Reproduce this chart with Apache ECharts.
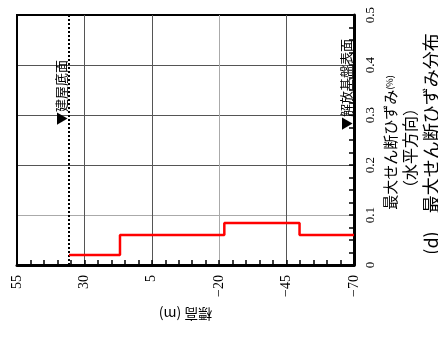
<!DOCTYPE html>
<html><head><meta charset="utf-8">
<script src="https://cdn.jsdelivr.net/npm/echarts@6/dist/echarts.min.js"></script>
<style>html,body{margin:0;padding:0;background:#fff}#c{width:438px;height:338px}</style>
</head><body><div id="c"></div>
<script>
// ---- data ----
const elevationTicks = [55, 30, 5, -20, -45, -70];
const strainTicks = [0, 0.1, 0.2, 0.3, 0.4, 0.5];
const layerBoundaries = [35.7, 16.8, -21.9, -49.8, -70];
const layerStrain = [0.02, 0.06, 0.084, 0.06];
const foundationLevel = 35.7;
const bedrockLevel = -70;
const markerLabels = ['▼建屋底面', '▼解放基盤表面'];
const markerStrainPos = [0.28, 0.27];
const elevationTitle = '標高 (m)';
const strainTitle = ['最大せん断ひずみ', '(%)'];
const directionTitle = '（水平方向）';
const panelTitle = '(d)　最大せん断ひずみ分布';

const SERIF = "'Liberation Serif','Noto Sans CJK JP',serif";
const CJK = "'Noto Sans CJK JP','Liberation Serif',sans-serif";

const stepPoints = [];
layerStrain.forEach((v, i) => {
  stepPoints.push([layerBoundaries[i], v]);
  stepPoints.push([layerBoundaries[i + 1], v]);
});

const chart = echarts.init(document.getElementById('c'), null, {renderer: 'canvas'});
const eMin = Math.min(...elevationTicks), eMax = Math.max(...elevationTicks);
const sMin = Math.min(...strainTicks), sMax = Math.max(...strainTicks);

chart.setOption({
  animation: false,
  backgroundColor: '#fff',
  grid: {left: 17, right: 84, top: 15, bottom: 73, show: true, borderColor: '#000', borderWidth: 2, backgroundColor: 'transparent'},
  xAxis: {
    type: 'value', min: eMin, max: eMax, interval: elevationTicks[0] - elevationTicks[1],
    inverse: true, position: 'bottom',
    name: elevationTitle, nameLocation: 'middle', nameRotate: 180, nameGap: 42,
    nameTextStyle: {fontFamily: CJK, fontSize: 14, color: '#000'},
    axisLine: {show: true, onZero: false, lineStyle: {color: '#000', width: 3}},
    axisTick: {show: true, inside: true, length: 5, lineStyle: {color: '#000', width: 1.5}},
    minorTick: {show: true, splitNumber: 5, length: 5, lineStyle: {color: '#000', width: 1.5}},
    axisLabel: {rotate: 90, margin: 10, fontFamily: SERIF, fontSize: 14, color: '#000',
      formatter: v => (v < 0 ? '−' + Math.abs(v) : String(v))},
    splitLine: {show: true, lineStyle: {color: ['#000', '#555', '#aaa', '#555', '#555', '#000'], width: 1}}
  },
  yAxis: {
    type: 'value', min: sMin, max: sMax, interval: strainTicks[1] - strainTicks[0], position: 'right',
    axisLine: {show: true, onZero: false, lineStyle: {color: '#000', width: 3}},
    axisTick: {show: true, inside: true, length: 5, lineStyle: {color: '#000', width: 1.5}},
    minorTick: {show: true, splitNumber: 4, length: 5, lineStyle: {color: '#000', width: 1.5}},
    axisLabel: {rotate: 90, margin: 10, fontFamily: SERIF, fontSize: 13, color: '#000',
      formatter: v => String(+v.toFixed(1))},
    splitLine: {show: true, lineStyle: {color: ['#000', '#aaa', '#555', '#555', '#555', '#000'], width: 1}}
  },
  series: [{
    type: 'line', data: stepPoints, showSymbol: false, symbol: 'none',
    lineStyle: {color: '#ff0000', width: 2.5}, z: 5,
    markLine: {
      silent: true, symbol: 'none', label: {show: false},
      lineStyle: {color: '#000', type: 'dotted', width: 2},
      data: [{xAxis: foundationLevel}]
    }
  }]
});

const p1 = chart.convertToPixel({gridIndex: 0}, [foundationLevel, markerStrainPos[0]]);
const p2 = chart.convertToPixel({gridIndex: 0}, [bedrockLevel, markerStrainPos[1]]);
const gb = chart.getModel().getComponent('grid').coordinateSystem.getRect();
const midY = gb.y + gb.height / 2;

chart.setOption({
  graphic: [
    {type: 'text', x: p1[0] - 1.5, y: p1[1], rotation: Math.PI / 2, z: 10,
      style: {text: markerLabels[0], font: '13px ' + CJK, fill: '#000', align: 'left', verticalAlign: 'bottom'}},
    {type: 'text', x: p2[0] - 1.5, y: p2[1], rotation: Math.PI / 2, z: 10,
      style: {text: markerLabels[1], font: '13px ' + CJK, fill: '#000', align: 'left', verticalAlign: 'bottom'}},
    {type: 'text', x: gb.x + gb.width + 36, y: midY + 2.5, rotation: Math.PI / 2,
      style: {text: '{a|' + strainTitle[0] + '}{b|' + strainTitle[1] + '}', align: 'center', verticalAlign: 'middle',
        rich: {a: {fontFamily: CJK, fontSize: 15, fill: '#000'}, b: {fontFamily: CJK, fontSize: 9, fill: '#000'}}}},
    {type: 'text', x: gb.x + gb.width + 56, y: midY + 8, rotation: Math.PI / 2,
      style: {text: directionTitle, font: '16px ' + CJK, fill: '#000', align: 'center', verticalAlign: 'middle'}},
    {type: 'text', x: gb.x + gb.width + 77, y: midY + 4, rotation: Math.PI / 2,
      style: {text: panelTitle, font: '18px ' + CJK, fill: '#000', align: 'center', verticalAlign: 'middle'}}
  ]
});
</script></body></html>
